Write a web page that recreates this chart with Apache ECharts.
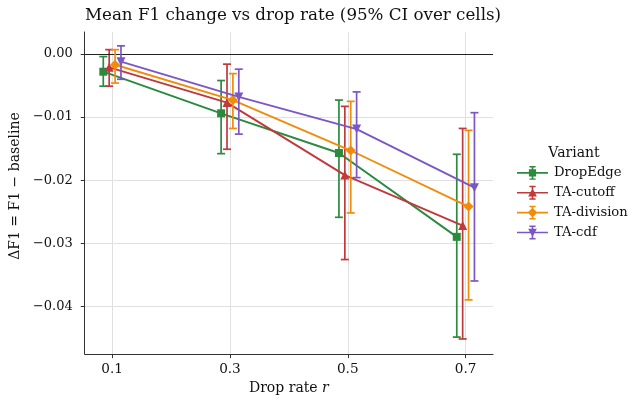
<!DOCTYPE html>
<html>
<head>
<meta charset="utf-8">
<script src="https://cdn.jsdelivr.net/npm/echarts@6/dist/echarts.min.js"></script>
<style>
  html, body { margin: 0; padding: 0; background: #fff; }
  #main { width: 634px; height: 400px; }
</style>
</head>
<body>
<div id="main"></div>
<script>
// drop rates (x categories) and tick labels
var rates = [0.1, 0.3, 0.5, 0.7];
var xTicks = [0.1, 0.3, 0.5, 0.7];
var yTicks = [-0.04, -0.03, -0.02, -0.01, 0.00];

var variants = ['DropEdge', 'TA-cutoff', 'TA-division', 'TA-cdf'];

// mean delta F1 per variant
var meanDropEdge = [-0.0028, -0.0094, -0.0157, -0.0290];
var meanCutoff   = [-0.0021, -0.0077, -0.0192, -0.0272];
var meanDivision = [-0.0017, -0.0073, -0.0153, -0.0242];
var meanCdf      = [-0.0012, -0.0068, -0.0119, -0.0212];

// 95% CI lower / upper
var loDropEdge = [-0.0051, -0.0158, -0.0259, -0.0449];
var hiDropEdge = [-0.0004, -0.0042, -0.0073, -0.0159];
var loCutoff   = [-0.0051, -0.0151, -0.0326, -0.0452];
var hiCutoff   = [ 0.0007, -0.0016, -0.0083, -0.0118];
var loDivision = [-0.0046, -0.0118, -0.0252, -0.0390];
var hiDivision = [ 0.0007, -0.0031, -0.0075, -0.0121];
var loCdf      = [-0.0040, -0.0127, -0.0196, -0.0360];
var hiCdf      = [ 0.0013, -0.0024, -0.0060, -0.0093];

var means = [meanDropEdge, meanCutoff, meanDivision, meanCdf];
var los = [loDropEdge, loCutoff, loDivision, loCdf];
var his = [hiDropEdge, hiCutoff, hiDivision, hiCdf];

var colors = ['#2b8a3e', '#c0393b', '#f08c0a', '#7b57c6'];
var symbols = ['rect', 'triangle', 'diamond', 'triangle'];
var symSizes = [8, 9, 10, 9];
var rotates = [0, 0, 0, 180];
var dodge = [-0.015, -0.005, 0.005, 0.015];

// legend icons: line + errorbar + marker, drawn in a 30x14 box
var base = 'M0 6.2 L30 6.2 L30 7.8 L0 7.8 Z M14.2 1 L15.8 1 L15.8 13 L14.2 13 Z M12 0.3 L18 0.3 L18 1.7 L12 1.7 Z M12 12.3 L18 12.3 L18 13.7 L12 13.7 Z ';
var markerPaths = [
  'M11.5 3.5 L18.5 3.5 L18.5 10.5 L11.5 10.5 Z',
  'M15 2.6 L19.2 10.6 L10.8 10.6 Z',
  'M15 2.3 L19.7 7 L15 11.7 L10.3 7 Z',
  'M10.8 3.4 L19.2 3.4 L15 11.4 Z'
];

var font = 'DejaVu Serif';
var myChart = echarts.init(document.getElementById('main'), null, {renderer: 'canvas'});

var series = [];
for (var k = 0; k < variants.length; k++) {
  var pts = [], bars = [];
  for (var i = 0; i < rates.length; i++) {
    var x = rates[i] + dodge[k];
    pts.push([x, means[k][i]]);
    bars.push([x, los[k][i], his[k][i]]);
  }
  series.push({
    name: variants[k] + ' CI',
    type: 'custom',
    data: bars,
    z: 2 + k * 2,
    silent: true,
    itemStyle: {color: colors[k]},
    renderItem: (function (col) {
      return function (params, api) {
        var x = api.value(0);
        var p1 = api.coord([x, api.value(1)]);
        var p2 = api.coord([x, api.value(2)]);
        var cw = 4;
        var st = {stroke: col, lineWidth: 1.7};
        return {
          type: 'group',
          children: [
            {type: 'line', shape: {x1: p1[0], y1: p1[1], x2: p2[0], y2: p2[1]}, style: st},
            {type: 'line', shape: {x1: p1[0] - cw, y1: p1[1], x2: p1[0] + cw, y2: p1[1]}, style: st},
            {type: 'line', shape: {x1: p2[0] - cw, y1: p2[1], x2: p2[0] + cw, y2: p2[1]}, style: st}
          ]
        };
      };
    })(colors[k])
  });
  var s = {
    name: variants[k],
    type: 'line',
    data: pts,
    z: 3 + k * 2,
    symbol: symbols[k],
    symbolRotate: rotates[k],
    symbolSize: symSizes[k],
    showAllSymbol: true,
    lineStyle: {color: colors[k], width: 1.9},
    itemStyle: {color: colors[k], opacity: 1},
    emphasis: {disabled: true},
    animation: false
  };
  if (k === 0) {
    s.markLine = {
      silent: true,
      symbol: 'none',
      label: {show: false},
      lineStyle: {color: '#222', width: 1.1, type: 'solid'},
      data: [{yAxis: 0}]
    };
  }
  series.push(s);
}

var option = {
  animation: false,
  backgroundColor: '#fff',
  title: [{
    text: 'Mean F1 change vs drop rate (95% CI over cells)',
    left: 288, top: 2, textAlign: 'center',
    textStyle: {fontFamily: font, fontSize: 16.7, fontWeight: 'normal', color: '#111'}
  }, {
    text: 'Variant',
    left: 569, top: 141, textAlign: 'center',
    textStyle: {fontFamily: font, fontSize: 14, fontWeight: 'normal', color: '#111'}
  }],
  legend: {
    left: 512, top: 161,
    orient: 'vertical',
    itemWidth: 31, itemHeight: 14, itemGap: 6,
    textStyle: {fontFamily: font, fontSize: 13.2, color: '#111', padding: [0, 0, 0, 1]},
    data: variants.map(function (v, k) {
      return {name: v, icon: 'path://' + base + markerPaths[k]};
    })
  },
  grid: {left: 84, top: 32, width: 409, height: 323},
  xAxis: {
    type: 'value',
    min: 0.0535, max: 0.7465,
    name: '{n|Drop rate }{i|r}',
    nameLocation: 'middle', nameGap: 24,
    nameTextStyle: {
      rich: {
        n: {fontFamily: font, fontSize: 14, color: '#111'},
        i: {fontFamily: font, fontSize: 14, fontStyle: 'italic', color: '#111'}
      }
    },
    axisLine: {show: true, onZero: false, lineStyle: {color: '#333', width: 1}},
    axisTick: {show: true, length: 4, lineStyle: {color: '#333'}, customValues: xTicks},
    axisLabel: {fontFamily: font, fontSize: 13.6, color: '#111', margin: 8, customValues: xTicks,
      formatter: function (v) { return v.toFixed(1); }},
    splitLine: {show: true, lineStyle: {color: '#e0e0e0', width: 1}}
  },
  yAxis: {
    type: 'value',
    min: -0.0476, max: 0.0035,
    name: 'ΔF1 = F1 − baseline',
    nameLocation: 'middle', nameGap: 61,
    nameTextStyle: {fontFamily: font, fontSize: 14, color: '#111', padding: [0, 0, 0, 14]},
    axisLine: {show: true, onZero: false, lineStyle: {color: '#333', width: 1}},
    axisTick: {show: true, length: 4, lineStyle: {color: '#333'}, customValues: yTicks},
    axisLabel: {fontFamily: font, fontSize: 13, color: '#111', margin: 12, customValues: yTicks,
      formatter: function (v) {
        var t = Math.abs(v).toFixed(2);
        return (v < -1e-9 ? '\u2212' : '') + t;
      }},
    splitLine: {show: true, lineStyle: {color: '#e0e0e0', width: 1}}
  },
  series: series
};

myChart.setOption(option);
</script>
</body>
</html>
